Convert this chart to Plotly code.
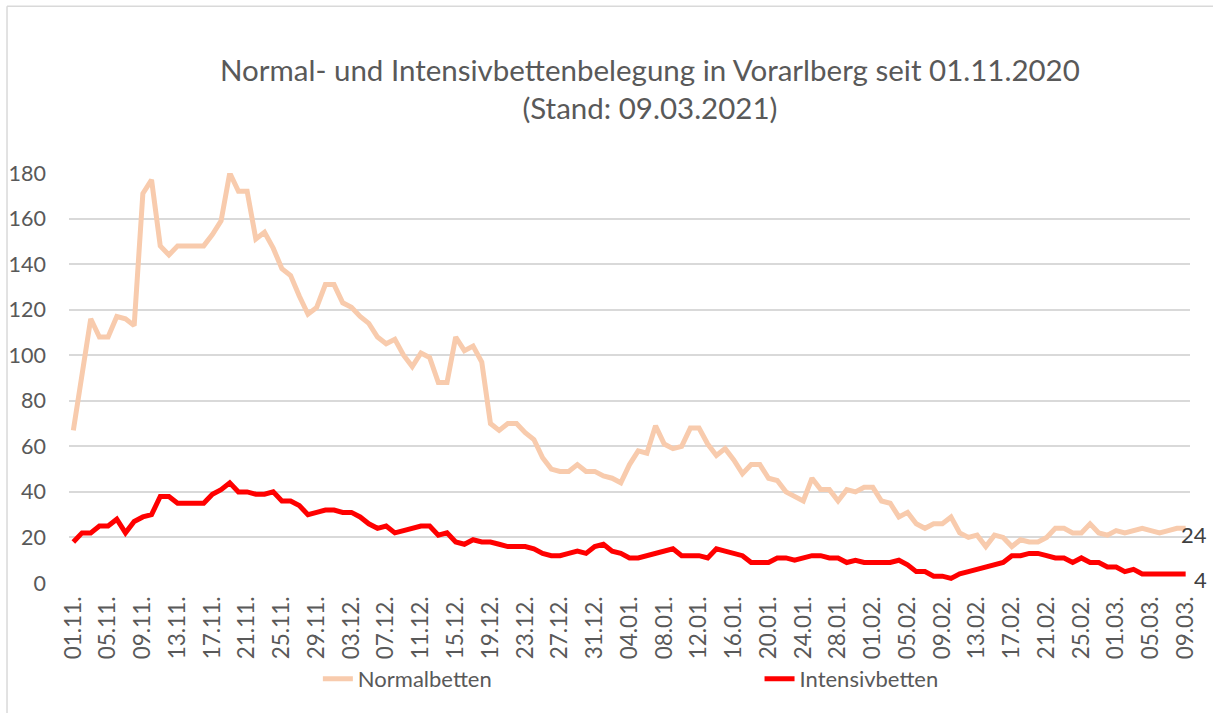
import pandas as pd
import plotly.graph_objects as go

# Categories: daily dates 01.11.2020 - 09.03.2021
dates = pd.date_range("2020-11-01", "2021-03-09", freq="D")
categories = [d.strftime("%d.%m.") for d in dates]

normalbetten = [
    67, 92, 116, 108, 108, 117, 116, 113, 171, 177,
    148, 144, 148, 148, 148, 148, 153, 159, 180, 172,
    172, 151, 154, 147, 138, 135, 126, 118, 121, 131,
    131, 123, 121, 117, 114, 108, 105, 107, 100, 95,
    101, 99, 88, 88, 108, 102, 104, 97, 70, 67,
    70, 70, 66, 63, 55, 50, 49, 49, 52, 49,
    49, 47, 46, 44, 52, 58, 57, 69, 61, 59,
    60, 68, 68, 61, 56, 59, 54, 48, 52, 52,
    46, 45, 40, 38, 36, 46, 41, 41, 36, 41,
    40, 42, 42, 36, 35, 29, 31, 26, 24, 26,
    26, 29, 22, 20, 21, 16, 21, 20, 16, 19,
    18, 18, 20, 24, 24, 22, 22, 26, 22, 21,
    23, 22, 23, 24, 23, 22, 23, 24, 24,
]

intensivbetten = [
    18, 22, 22, 25, 25, 28, 22, 27, 29, 30,
    38, 38, 35, 35, 35, 35, 39, 41, 44, 40,
    40, 39, 39, 40, 36, 36, 34, 30, 31, 32,
    32, 31, 31, 29, 26, 24, 25, 22, 23, 24,
    25, 25, 21, 22, 18, 17, 19, 18, 18, 17,
    16, 16, 16, 15, 13, 12, 12, 13, 14, 13,
    16, 17, 14, 13, 11, 11, 12, 13, 14, 15,
    12, 12, 12, 11, 15, 14, 13, 12, 9, 9,
    9, 11, 11, 10, 11, 12, 12, 11, 11, 9,
    10, 9, 9, 9, 9, 10, 8, 5, 5, 3,
    3, 2, 4, 5, 6, 7, 8, 9, 12, 12,
    13, 13, 12, 11, 11, 9, 11, 9, 9, 7,
    7, 5, 6, 4, 4, 4, 4, 4, 4,
]

x_tick_labels = categories[::4]
y_ticks = list(range(0, 181, 20))

title_line1 = "Normal- und Intensivbettenbelegung in Vorarlberg seit 01.11.2020"
title_line2 = "(Stand: 09.03.2021)"

FONT = "Lato"
GRAY = "#595959"

fig = go.Figure()
fig.add_trace(go.Scatter(
    x=categories, y=normalbetten, mode="lines", name="Normalbetten",
    line=dict(color="#F8CBAD", width=5), legend="legend",
))
fig.add_trace(go.Scatter(
    x=categories, y=intensivbetten, mode="lines", name="Intensivbetten",
    line=dict(color="#FF0000", width=5), legend="legend2",
))

# end-point data labels
for series in (normalbetten, intensivbetten):
    fig.add_annotation(
        x=categories[-1], y=series[-1], xref="x", yref="y",
        text=str(series[-1]), showarrow=False,
        xanchor="right", yanchor="middle", xshift=23, yshift=-6,
        font=dict(family=FONT, size=22, color="#404040"),
    )

fig.add_annotation(
    x=0.518, y=1.207, xref="paper", yref="paper",
    text=title_line1 + "<br>" + title_line2, showarrow=False,
    xanchor="center", yanchor="middle", align="center",
    font=dict(family=FONT, size=29.5, color=GRAY),
)

# chart area border (left and top edges visible)
fig.add_shape(type="line", xref="paper", yref="paper",
              x0=-0.0553, x1=-0.0553, y0=-0.32, y1=1.407,
              line=dict(color="#D9D9D9", width=1.5))
fig.add_shape(type="line", xref="paper", yref="paper",
              x0=-0.0553, x1=1.03, y0=1.407, y1=1.407,
              line=dict(color="#D9D9D9", width=1.5))

legend_common = dict(
    orientation="h", yanchor="middle", xanchor="left",
    font=dict(family=FONT, size=22, color=GRAY),
    bgcolor="rgba(0,0,0,0)", itemwidth=30,
)

fig.update_layout(
    width=1213, height=713,
    margin=dict(l=69, r=23, t=173, b=130, autoexpand=False),
    paper_bgcolor="white", plot_bgcolor="white",
    font=dict(family=FONT, color=GRAY),
    showlegend=True,
    legend=dict(x=0.222, y=-0.234, **legend_common),
    legend2=dict(x=0.616, y=-0.234, **legend_common),
)
fig.update_xaxes(
    type="category", range=[-0.5, len(categories) - 0.5],
    tickmode="array", tickvals=x_tick_labels, ticktext=x_tick_labels,
    tickangle=-90, showgrid=False, showline=False, zeroline=False,
    ticks="", ticklabelstandoff=8, automargin=False,
    tickfont=dict(family=FONT, size=22.5, color=GRAY),
)
fig.update_yaxes(
    range=[0, 180], tickmode="array", tickvals=y_ticks,
    showgrid=True, gridcolor="#D9D9D9", gridwidth=1.5,
    zeroline=False, showline=False, ticks="", ticklabelstandoff=22,
    automargin=False,
    tickfont=dict(family=FONT, size=21.5, color=GRAY),
)

fig.write_html(
    "out.html",
    config={"displayModeBar": False},
    post_script="document.body.style.margin='0px';",
)
